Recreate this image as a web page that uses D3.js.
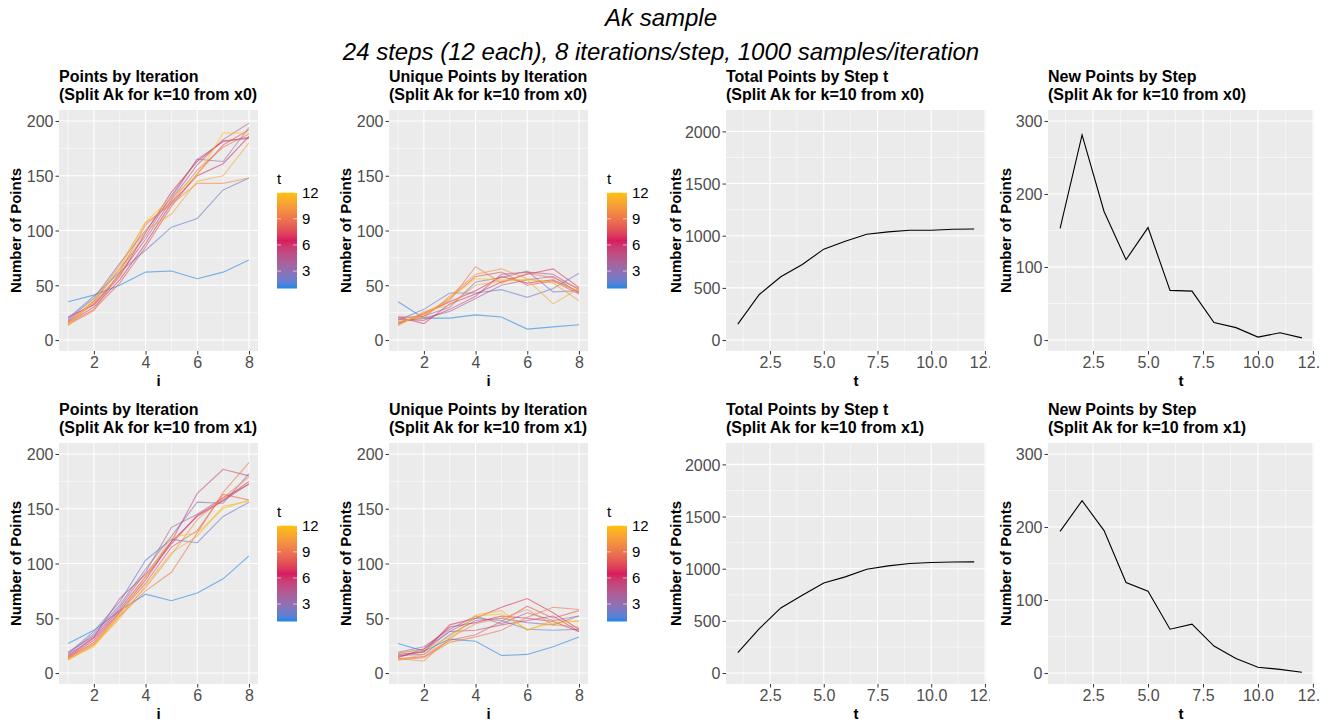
<!DOCTYPE html>
<html>
<head>
<meta charset="utf-8">
<script src="https://cdn.jsdelivr.net/npm/d3@7"></script>
<style>
  body { margin: 0; background: #fff; }
  svg { font-family: "Liberation Sans", Arial, sans-serif; }
</style>
</head>
<body>
<svg id="chart" width="1334" height="721"></svg>
<script>
// ---- data ----
var iters = [1, 2, 3, 4, 5, 6, 7, 8];
var steps = [1, 2, 3, 4, 5, 6, 7, 8, 9, 10, 11, 12];

// one row per step t = 1..12, one value per iteration i = 1..8
var pointsX0 = [
  [35, 41, 50, 62, 63, 56, 62, 73],
  [20, 40, 62, 82, 103, 111, 137, 148],
  [19, 38, 70, 100, 130, 165, 163, 194],
  [18, 35, 65, 95, 132, 165, 181, 185],
  [17, 33, 60, 92, 128, 160, 183, 198],
  [16, 30, 55, 88, 125, 150, 161, 186],
  [21, 32, 58, 98, 135, 163, 182, 184],
  [15, 28, 52, 85, 122, 152, 178, 192],
  [14, 27, 62, 105, 126, 155, 176, 188],
  [13, 36, 68, 107, 124, 143, 143, 148],
  [15, 34, 60, 100, 115, 145, 150, 180],
  [14, 37, 65, 108, 130, 150, 189, 189]
];
var uniqueX0 = [
  [35, 20, 20, 23, 21, 10, 12, 14],
  [18, 28, 43, 43, 46, 39, 47, 61],
  [20, 22, 30, 53, 57, 63, 44, 45],
  [17, 20, 26, 38, 50, 55, 58, 43],
  [19, 18, 28, 40, 60, 62, 60, 46],
  [15, 24, 35, 45, 58, 52, 55, 44],
  [21, 15, 33, 42, 53, 60, 65, 48],
  [16, 22, 38, 58, 62, 50, 54, 42],
  [14, 25, 36, 67, 52, 61, 57, 47],
  [22, 20, 40, 60, 65, 56, 52, 36],
  [13, 26, 32, 50, 54, 55, 33, 47],
  [16, 23, 38, 56, 55, 55, 53, 45]
];
var pointsX1 = [
  [27, 39, 57, 72, 66, 73, 86, 107],
  [18, 38, 65, 103, 122, 119, 143, 156],
  [17, 36, 62, 95, 125, 156, 155, 182],
  [19, 34, 60, 92, 133, 145, 160, 172],
  [16, 33, 68, 90, 120, 164, 186, 180],
  [15, 32, 58, 88, 118, 144, 158, 175],
  [14, 30, 56, 85, 120, 143, 157, 173],
  [13, 28, 55, 82, 115, 130, 163, 158],
  [12, 26, 52, 75, 92, 128, 165, 192],
  [14, 27, 53, 78, 108, 140, 160, 179],
  [12, 25, 50, 80, 110, 125, 152, 157],
  [13, 24, 54, 88, 124, 128, 150, 158]
];
var uniqueX1 = [
  [27, 20, 31, 29, 16, 17, 24, 33],
  [18, 22, 38, 50, 48, 40, 39, 40],
  [16, 17, 35, 48, 50, 46, 44, 52],
  [19, 24, 40, 52, 45, 55, 48, 52],
  [15, 20, 38, 39, 44, 48, 52, 38],
  [14, 22, 42, 46, 52, 50, 47, 38],
  [17, 19, 44, 50, 60, 68, 55, 40],
  [13, 15, 30, 35, 47, 61, 50, 57],
  [12, 14, 28, 33, 39, 51, 60, 58],
  [13, 11, 32, 45, 50, 58, 44, 42],
  [12, 17, 30, 53, 57, 39, 48, 47],
  [18, 21, 33, 52, 54, 40, 45, 48]
];
var totalX0 = [152, 437, 606, 724, 871, 947, 1014, 1037, 1053, 1053, 1062, 1064];
var newX0 = [153, 281, 176, 110, 154, 68, 67, 24, 17, 4, 10, 3];
var totalX1 = [195, 425, 624, 746, 864, 922, 995, 1027, 1050, 1059, 1065, 1066];
var newX1 = [194, 236, 195, 124, 112, 60, 67, 37, 20, 8, 5, 1];

// ticks
var iterTicks = [2, 4, 6, 8];
var countTicks = [0, 50, 100, 150, 200];
var stepTicks = [2.5, 5, 7.5, 10, 12.5];
var totalTicks = [0, 500, 1000, 1500, 2000];
var newTicks = [0, 100, 200, 300];
var legendTicks = [3, 6, 9, 12];

var stepColors = ["#1E88E5", "#D81B60", "#FFC107"];

// ---- layout ----
var svg = d3.select("#chart");
var cellW = 330, rowH = 333;
var colPlot = [[59, 258], [389, 588], [726, 986], [1048, 1314]];
var rowPlot = [110, 351];

var color = d3.scaleLinear()
  .domain([1, 6.5, 12])
  .range(stepColors)
  .interpolate(d3.interpolateLab);

function expand(lo, hi) {
  var d = (hi - lo) * 0.05;
  return [lo - d, hi + d];
}

function minorsOf(ticks, domain) {
  var step = ticks[1] - ticks[0];
  var out = [];
  for (var k = 0; k <= ticks.length; k++) {
    var v = ticks[0] - step / 2 + k * step;
    if (v >= domain[0] && v <= domain[1]) out.push(v);
  }
  return out;
}

// gradient for the colour bar
var grad = svg.append("defs").append("linearGradient")
  .attr("id", "tgrad")
  .attr("x1", 0).attr("y1", 1).attr("x2", 0).attr("y2", 0);
d3.range(0, 1.0001, 0.05).forEach(function (f) {
  grad.append("stop").attr("offset", f).attr("stop-color", color(1 + f * 11));
});

var clipN = 0;
function drawPanel(col, row, cfg) {
  var oy = row * rowH;
  var px0 = colPlot[col][0], px1 = colPlot[col][1];
  var py0 = rowPlot[0] + oy, py1 = rowPlot[1] + oy;

  var cid = "clip" + (clipN++);
  svg.select("defs").append("clipPath").attr("id", cid)
    .append("rect")
    .attr("x", col * cellW).attr("y", oy + 62)
    .attr("width", cellW).attr("height", rowH);

  var g = svg.append("g").attr("clip-path", "url(#" + cid + ")");

  var x = d3.scaleLinear().domain(cfg.xDomain).range([px0, px1]);
  var y = d3.scaleLinear().domain(cfg.yDomain).range([py1, py0]);

  g.append("rect")
    .attr("x", px0).attr("y", py0)
    .attr("width", px1 - px0).attr("height", py1 - py0)
    .attr("fill", "#EBEBEB");

  // grid
  var grid = g.append("g").attr("stroke", "#fff");
  minorsOf(cfg.xTicks, cfg.xDomain).forEach(function (v) {
    grid.append("line").attr("x1", x(v)).attr("x2", x(v)).attr("y1", py0).attr("y2", py1).attr("stroke-width", 0.55);
  });
  minorsOf(cfg.yTicks, cfg.yDomain).forEach(function (v) {
    grid.append("line").attr("y1", y(v)).attr("y2", y(v)).attr("x1", px0).attr("x2", px1).attr("stroke-width", 0.55);
  });
  cfg.xTicks.forEach(function (v) {
    grid.append("line").attr("x1", x(v)).attr("x2", x(v)).attr("y1", py0).attr("y2", py1).attr("stroke-width", 1.1);
  });
  cfg.yTicks.forEach(function (v) {
    grid.append("line").attr("y1", y(v)).attr("y2", y(v)).attr("x1", px0).attr("x2", px1).attr("stroke-width", 1.1);
  });

  // lines
  var line = d3.line().x(function (d) { return x(d[0]); }).y(function (d) { return y(d[1]); });
  if (cfg.series) {
    cfg.series.forEach(function (vals, k) {
      var t = steps[k];
      g.append("path")
        .datum(iters.map(function (iv, j) { return [iv, vals[j]]; }))
        .attr("d", line)
        .attr("fill", "none")
        .attr("stroke", color(t))
        .attr("stroke-opacity", 0.6)
        .attr("stroke-width", 1.1);
    });
  } else {
    g.append("path")
      .datum(steps.map(function (s, j) { return [s, cfg.single[j]]; }))
      .attr("d", line)
      .attr("fill", "none")
      .attr("stroke", "#000")
      .attr("stroke-width", 1.1);
  }

  // axes
  var yAxis = g.append("g")
    .attr("transform", "translate(" + px0 + ",0)")
    .call(d3.axisLeft(y).tickValues(cfg.yTicks).tickSize(3.5).tickPadding(2).tickFormat(d3.format("d")));
  var xAxis = g.append("g")
    .attr("transform", "translate(0," + py1 + ")")
    .call(d3.axisBottom(x).tickValues(cfg.xTicks).tickSize(3.5).tickPadding(2).tickFormat(cfg.xFormat));
  [yAxis, xAxis].forEach(function (a) {
    a.select(".domain").remove();
    a.selectAll(".tick line").attr("stroke", "#333333").attr("stroke-width", 1);
    a.selectAll(".tick text").attr("fill", "#4D4D4D").style("font-size", "16px").style("font-family", "Liberation Sans, Arial, sans-serif");
  });
  yAxis.selectAll(".tick text").attr("dy", "0.36em");

  // axis titles
  g.append("text")
    .attr("x", (px0 + px1) / 2).attr("y", py1 + 35)
    .attr("text-anchor", "middle")
    .style("font-size", "15px").style("font-weight", "bold")
    .text(cfg.xLabel);
  g.append("text")
    .attr("transform", "translate(" + (col * cellW + 20.5) + "," + ((py0 + py1) / 2) + ") rotate(-90)")
    .attr("text-anchor", "middle")
    .style("font-size", "15px").style("font-weight", "bold")
    .text("Number of Points");

  // title
  var title = g.append("text").style("font-size", "16px").style("font-weight", "bold");
  title.append("tspan").attr("x", px0).attr("y", py0 - 28).text(cfg.title);
  title.append("tspan").attr("x", px0).attr("y", py0 - 10).text(cfg.subtitle);

  // colour bar legend
  if (cfg.legend) {
    var lx = px1 + 19, top = 192.7 + oy, bot = 288.5 + oy, bw = 20;
    var ls = d3.scaleLinear().domain([1, 12]).range([bot, top]);
    g.append("text").attr("x", lx).attr("y", top - 9)
      .style("font-size", "15px").text("t");
    g.append("rect").attr("x", lx).attr("y", top)
      .attr("width", bw).attr("height", bot - top)
      .attr("fill", "url(#tgrad)");
    legendTicks.forEach(function (v) {
      g.append("line").attr("x1", lx).attr("x2", lx + 4).attr("y1", ls(v)).attr("y2", ls(v))
        .attr("stroke", "#fff").attr("stroke-opacity", 0.6);
      g.append("line").attr("x1", lx + bw - 4).attr("x2", lx + bw).attr("y1", ls(v)).attr("y2", ls(v))
        .attr("stroke", "#fff").attr("stroke-opacity", 0.6);
      g.append("text").attr("x", lx + bw + 5).attr("y", ls(v)).attr("dy", "0.36em")
        .style("font-size", "15px").text(v);
    });
  }
}

var iterDomain = expand(1, 8), countDomain = expand(0, 200);
var stepDomain = expand(1, 12);
var fmtInt = d3.format("d"), fmtOne = d3.format(".1f");

["x0", "x1"].forEach(function (src, row) {
  var sub = "(Split Ak for k=10 from " + src + ")";
  drawPanel(0, row, {
    title: "Points by Iteration", subtitle: sub, xLabel: "i",
    xDomain: iterDomain, yDomain: countDomain, xTicks: iterTicks, yTicks: countTicks,
    xFormat: fmtInt, series: row === 0 ? pointsX0 : pointsX1, legend: true
  });
  drawPanel(1, row, {
    title: "Unique Points by Iteration", subtitle: sub, xLabel: "i",
    xDomain: iterDomain, yDomain: countDomain, xTicks: iterTicks, yTicks: countTicks,
    xFormat: fmtInt, series: row === 0 ? uniqueX0 : uniqueX1, legend: true
  });
  drawPanel(2, row, {
    title: "Total Points by Step t", subtitle: sub, xLabel: "t",
    xDomain: stepDomain, yDomain: expand(0, 2100), xTicks: stepTicks, yTicks: totalTicks,
    xFormat: fmtOne, single: row === 0 ? totalX0 : totalX1
  });
  drawPanel(3, row, {
    title: "New Points by Step", subtitle: sub, xLabel: "t",
    xDomain: stepDomain, yDomain: expand(0, 300), xTicks: stepTicks, yTicks: newTicks,
    xFormat: fmtOne, single: row === 0 ? newX0 : newX1
  });
});

// overall titles
svg.append("text").attr("x", 661).attr("y", 26).attr("text-anchor", "middle")
  .style("font-size", "24px").style("font-style", "italic").text("Ak sample");
svg.append("text").attr("x", 661).attr("y", 60).attr("text-anchor", "middle")
  .style("font-size", "24px").style("font-style", "italic")
  .text("24 steps (12 each), 8 iterations/step, 1000 samples/iteration");
</script>
</body>
</html>
